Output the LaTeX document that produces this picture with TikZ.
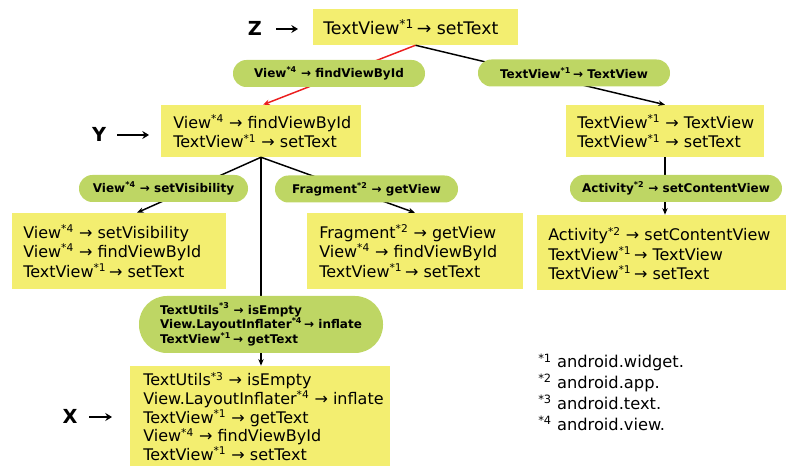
\documentclass[tikz,border=0pt]{standalone}
\usepackage{fontspec}
\setmainfont{DejaVu Sans}
\usetikzlibrary{arrows.meta}
\definecolor{boxyellow}{RGB}{243,238,112}
\definecolor{ellgreen}{RGB}{190,214,100}
\definecolor{linkred}{RGB}{235,30,30}
\newcommand\sps[1]{\textsuperscript{*#1}}
\tikzset{
  ybox/.style={fill=boxyellow, draw=none, inner sep=0pt},
  ytext/.style={align=left, inner sep=0pt, anchor=west,
    font=\fontsize{12}{14.5}\selectfont},
  gpill/.style={fill=ellgreen, draw=none, rounded corners=10pt, align=left,
    inner sep=0pt, font=\bfseries\fontsize{9}{10.9}\selectfont},
  conn/.style={line width=1.1pt, -{Stealth[length=5pt,width=4pt]}},
  redconn/.style={conn, draw=linkred},
  lbl/.style={font=\bfseries\fontsize{14.5}{16}\selectfont, inner sep=0pt},
  lblarrow/.style={line width=2.2pt, -{Stealth[length=5pt,width=6pt]}},
  legend/.style={align=left, inner sep=0pt, font=\fontsize{12.2}{15.6}\selectfont}
}
\begin{document}
\begin{tikzpicture}[x=0.75pt,y=-0.75pt]
\useasboundingbox (0,0) rectangle (786,466);

% boxes
\node[ybox, minimum width=153.75pt, minimum height=27pt] (Z) at (415.5,27) {};
\node[ytext, font=\fontsize{13}{15}\selectfont] (Zt) at (323,27) {TextView\sps{1}\,→ setText};

\node[ybox, minimum width=150pt, minimum height=39pt] (Y) at (261,131) {};
\node[ytext] (Yt) at (173,131.5) {View\sps{4} → findViewById\\TextView\sps{1} → setText};

\node[ybox, minimum width=148.5pt, minimum height=39pt] (R1) at (665,131) {};
\node[ytext] (R1t) at (577,131.5) {TextView\sps{1} → TextView\\TextView\sps{1} → setText};

\node[ybox, minimum width=160.5pt, minimum height=57pt] (L) at (119,251) {};
\node[ytext] (Lt) at (23,251) {View\sps{4} → setVisibility\\View\sps{4} → findViewById\\TextView\sps{1}\,→ setText};

\node[ybox, minimum width=162pt, minimum height=57pt] (M) at (415,251) {};
\node[ytext] (Mt) at (319,251) {Fragment\sps{2} → getView\\View\sps{4} → findViewById\\TextView\sps{1}\,→ setText};

\node[ybox, minimum width=195pt, minimum height=56.25pt, anchor=west] (R2) at (537,252.5) {};
\node[ytext] (R2t) at (548,253.5) {Activity\sps{2} → setContentView\\TextView\sps{1}\,→ TextView\\TextView\sps{1}\,→ setText};

\node[ybox, minimum width=195pt, minimum height=82.5pt] (X) at (260,421) {};
\node[ytext, font=\fontsize{12}{14}\selectfont] (Xt) at (143,416.5) {TextUtils\sps{3} → isEmpty\\View.LayoutInflater\sps{4} → inflate\\TextView\sps{1} → getText\\View\sps{4} → findViewById\\TextView\sps{1} → setText};

% connectors
\draw[redconn] (Z.south) -- ([xshift=1.5pt]Y.north);
\draw[conn] (Z.south) -- (R1.north);
\draw[conn] (R1.south) -- (R1.south |- R2.north);
\draw[conn] (Y.south) -- ([xshift=13.5pt]L.north);
\draw[conn] (Y.south) -- (M.north);
\draw[conn] (Y.south) -- (Y.south |- X.north);

% pills
\node[gpill, minimum width=144pt, minimum height=20.25pt] (E1) at (329,73.5) {View\sps{4} → findViewById};
\node[gpill, minimum width=144pt, minimum height=20.25pt] (E2) at (574,73) {TextView\sps{1}\,→ TextView};
\node[gpill, minimum width=126.75pt, minimum height=20.25pt] (E3) at (163.5,188.5) {View\sps{4} → setVisibility};
\node[gpill, minimum width=137.25pt, minimum height=20.25pt] (E4) at (366.5,189) {Fragment\sps{2} → getView};
\node[gpill, minimum width=159pt, minimum height=20.25pt] (E5) at (676,188.5) {Activity\sps{2} → setContentView};
\node[gpill, minimum width=183pt, minimum height=42.75pt, rounded corners=21pt,
  font=\bfseries\fontsize{9}{11}\selectfont] (E6) at (261,324.5)
  {TextUtils\sps{3} → isEmpty\\View.LayoutInflater\sps{4}\,→ inflate\\TextView\sps{1}\,→ getText};

% level labels
\node[lbl] (LZ) at (255,28) {Z};
\coordinate (LZa) at (276,29);
\coordinate (LZb) at (298,29);
\draw[lblarrow] (LZa) -- (LZb);
\node[lbl] (LY) at (99,134) {Y};
\coordinate (LYa) at (117,135);
\coordinate (LYb) at (149,135);
\draw[lblarrow] (LYa) -- (LYb);
\node[lbl] (LX) at (70,416) {X};
\coordinate (LXa) at (89,417);
\coordinate (LXb) at (112,417);
\draw[lblarrow] (LXa) -- (LXb);

% legend
\node[legend, anchor=west] (leg) at (538,392)
  {\sps{1} android.widget.\\\sps{2} android.app.\\\sps{3} android.text.\\\sps{4} android.view.};
\end{tikzpicture}
\end{document}
